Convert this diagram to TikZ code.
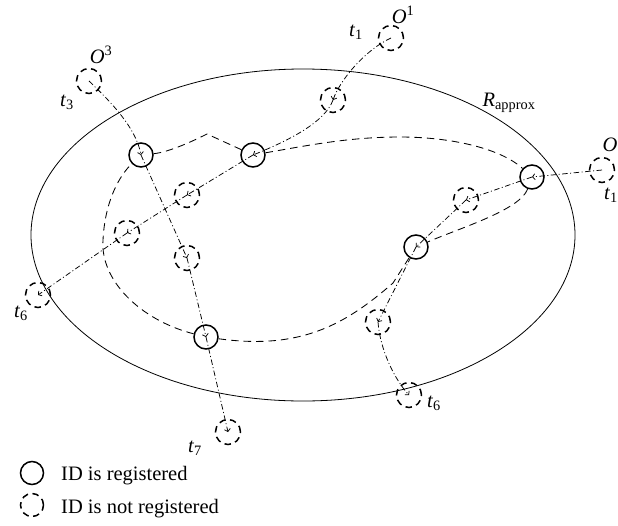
\documentclass[tikz,border=0pt]{standalone}
\usepackage{fontspec}
\setmainfont{Liberation Serif}
\usetikzlibrary{arrows.meta}
\begin{document}
\begin{tikzpicture}[x=1pt,y=-1pt,
  font=\fontsize{20.5}{24}\selectfont,
  regid/.style={circle,draw,line width=1.5pt,minimum size=24pt,inner sep=0pt},
  unregid/.style={regid,minimum size=25pt,dash pattern=on 6.5pt off 4.5pt},
  traj/.style={line width=0.75pt,dash pattern=on 5.5pt off 2.5pt on 1pt off 2.5pt,
    -{Straight Barb[length=2.5pt,width=6pt]}},
  est/.style={line width=0.85pt,dash pattern=on 7.5pt off 5pt},
  lbl/.style={inner sep=0pt}]
\useasboundingbox (0,0) rectangle (618,525);

% approximation region
\draw[line width=0.8pt] (303,235) ellipse [x radius=272, y radius=166];
\node[lbl] (lR) at (509,103) {\textit{R}\textsubscript{approx}};

% registered readers
\node[regid] (A) at (141,155) {};
\node[regid] (B) at (253,155) {};
\node[regid] (C) at (532,177) {};
\node[regid] (D) at (416,247) {};
\node[regid] (E) at (206,337) {};

% unregistered positions
\node[unregid] (O3) at (89,81) {};
\node[unregid] (O1) at (391,38) {};
\node[unregid] (Or) at (602,170) {};
\node[unregid] (u1) at (333,100) {};
\node[unregid] (u2) at (187,195) {};
\node[unregid] (u3) at (187,258) {};
\node[unregid] (u4) at (127,233) {};
\node[unregid] (u5) at (466,200) {};
\node[unregid] (u6) at (378,322) {};
\node[unregid] (t6L) at (38,295) {};
\node[unregid] (t6B) at (409,395) {};
\node[unregid] (t7n) at (228,432) {};

% labels
\node[lbl] (lO3) at (101,55) {\textit{O}\textsuperscript{3}};
\node[lbl] (lt3) at (67,102) {\textit{t}\textsubscript{3}};
\node[lbl] (lO1) at (403,15) {\textit{O}\textsuperscript{1}};
\node[lbl] (lt1) at (356,32) {\textit{t}\textsubscript{1}};
\node[lbl] (lOr) at (610,145) {\textit{O}};
\node[lbl] (lt1r) at (611,195) {\textit{t}\textsubscript{1}};
\node[lbl] (lt6L) at (21,313) {\textit{t}\textsubscript{6}};
\node[lbl] (lt6B) at (434,403) {\textit{t}\textsubscript{6}};
\node[lbl] (lt7) at (195,448) {\textit{t}\textsubscript{7}};

% trajectory of O3
\draw[traj] (O3.center) .. controls (112,103) and (136,128) .. (A.center);
\draw[traj] (A.center) -- (u3.center);
\draw[traj] (u3.center) -- (E.center);
\draw[traj] (E.center) -- (t7n.center);

% trajectory of O1
\draw[traj] (O1.center) .. controls (365,50) and (340,80) .. (u1.center);
\draw[traj] (u1.center) .. controls (325,122) and (290,140) .. (B.center);
\draw[traj] (B.center) -- (u2.center);
\draw[traj] (u2.center) -- (u4.center);
\draw[traj] (u4.center) -- (t6L.center);

% trajectory of O
\draw[traj] (Or.center) -- (C.center);
\draw[traj] (C.center) -- (u5.center);
\draw[traj] (u5.center) -- (D.center);
\draw[traj] (D.center) -- (u6.center);
\draw[traj] (u6.center) .. controls (380,350) and (395,380) .. (t6B.center);

% estimated path through registered readers
\draw[est] (A) .. controls (170,152) and (195,140) .. (207,134) -- (B);
\draw[est] (B) .. controls (310,145) and (350,137) .. (400,137)
               .. controls (450,137) and (500,148) .. (C);
\draw[est] (C) .. controls (520,210) and (460,228) .. (D);
\draw[est] (E) .. controls (300,350) and (345,325) .. (393,283) -- (D);
\draw[est] (E) .. controls (140,320) and (100,280) .. (103,240)
               .. controls (105,200) and (120,175) .. (A);

% legend
\node[regid,minimum size=23pt] (k1) at (32,473) {};
\node[unregid,minimum size=23pt] (k2) at (32,505) {};
\node[lbl,anchor=base west] (k1t) at (61,480) {ID is registered};
\node[lbl,anchor=base west] (k2t) at (61,513) {ID is not registered};
\end{tikzpicture}
\end{document}
